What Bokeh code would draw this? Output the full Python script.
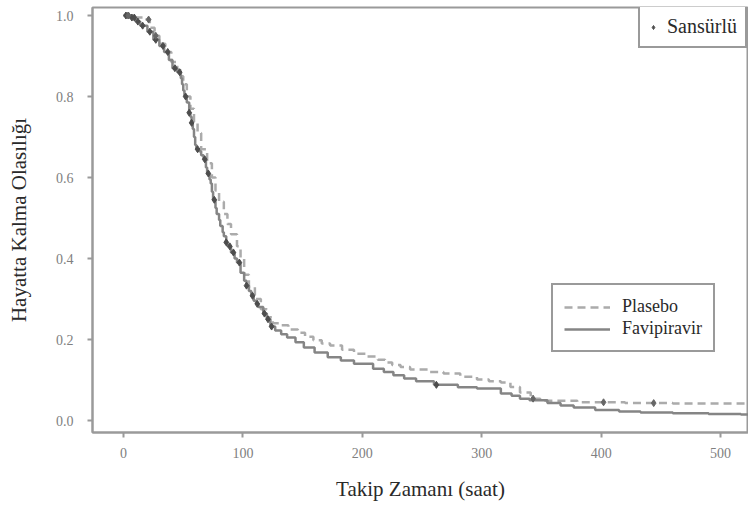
import numpy as np
from bokeh.plotting import figure
from bokeh.models import Legend, LegendItem, Range1d, FixedTicker, PrintfTickFormatter, ColumnDataSource
from bokeh.embed import file_html
from bokeh.resources import INLINE

# Favipiravir Kaplan-Meier estimate (time in hours, survival probability)
fav_time = [0, 5, 10, 14, 20, 25, 30, 34, 38, 41, 45, 48, 49, 50, 51, 53, 55, 56, 57, 58, 59,
            60, 61, 63, 65, 67, 69, 70, 72, 73, 74, 75, 77, 78, 80, 81, 83, 84, 86, 87, 90,
            93, 95, 98, 101, 103, 105, 107, 109, 111, 113, 117, 120, 123, 127, 132, 137, 144,
            151, 160, 171, 182, 193, 209, 218, 226, 235, 245, 260, 280, 296, 316, 325, 332,
            340, 355, 366, 377, 395, 415, 433, 460, 490, 517, 525]
fav_surv = [1.0, 0.995, 0.985, 0.975, 0.96, 0.94, 0.925, 0.91, 0.89, 0.87, 0.86, 0.845, 0.83,
            0.815, 0.80, 0.785, 0.76, 0.75, 0.735, 0.72, 0.70, 0.68, 0.67, 0.665, 0.655,
            0.645, 0.625, 0.61, 0.595, 0.585, 0.565, 0.545, 0.525, 0.51, 0.495, 0.48, 0.465,
            0.455, 0.44, 0.43, 0.415, 0.40, 0.39, 0.365, 0.345, 0.333, 0.32, 0.308, 0.296,
            0.288, 0.28, 0.264, 0.25, 0.232, 0.222, 0.213, 0.205, 0.193, 0.18, 0.168, 0.156,
            0.148, 0.14, 0.128, 0.12, 0.112, 0.104, 0.097, 0.088, 0.082, 0.079, 0.067, 0.061,
            0.054, 0.05, 0.043, 0.037, 0.032, 0.026, 0.022, 0.02, 0.018, 0.016, 0.015, 0.015]

# Placebo Kaplan-Meier estimate
pla_time = [0, 10, 18, 22, 26, 30, 35, 40, 45, 48, 50, 53, 56, 59, 62, 65, 70, 74, 77, 80,
            84, 87, 90, 95, 98, 101, 105, 110, 115, 120, 125, 131, 138, 146, 152, 159, 166,
            173, 183, 193, 203, 213, 219, 225, 232, 240, 255, 268, 282, 296, 306, 316, 324,
            332, 341, 349, 380, 420, 460, 525]
pla_surv = [1.0, 0.995, 0.99, 0.97, 0.95, 0.93, 0.91, 0.885, 0.865, 0.85, 0.83, 0.80, 0.77,
            0.74, 0.71, 0.67, 0.635, 0.60, 0.568, 0.54, 0.51, 0.485, 0.46, 0.43, 0.40, 0.36,
            0.33, 0.30, 0.275, 0.255, 0.24, 0.235, 0.225, 0.217, 0.207, 0.198, 0.19, 0.185,
            0.175, 0.165, 0.158, 0.15, 0.143, 0.137, 0.132, 0.126, 0.12, 0.116, 0.108, 0.101,
            0.097, 0.094, 0.083, 0.069, 0.054, 0.049, 0.045, 0.043, 0.042, 0.042]

# censoring times
fav_censor = [2, 4, 7, 9, 12, 16, 22, 27, 33, 37, 43, 47, 52, 55, 57, 62, 68, 71, 76, 86, 89,
              92, 97, 103, 108, 112, 118, 121, 124, 262]
pla_censor = [4, 21, 27, 343, 402, 444]

x_ticks = [0, 100, 200, 300, 400, 500]
y_ticks = [0.0, 0.2, 0.4, 0.6, 0.8, 1.0]


def km_at(times, surv, t):
    times = np.asarray(times)
    surv = np.asarray(surv)
    idx = np.searchsorted(times, np.asarray(t), side="right") - 1
    return surv[np.clip(idx, 0, len(surv) - 1)]


SERIF = '"Liberation Serif", "Times New Roman", serif'

p = figure(width=748, height=511, output_backend="svg", toolbar_location=None,
           x_range=Range1d(-26, 523.4), y_range=Range1d(-0.0296, 1.0198),
           min_border_left=92, min_border_right=0, min_border_top=7, min_border_bottom=79,
           background_fill_color="white", border_fill_color="white")

p.xgrid.visible = False
p.ygrid.visible = False
p.outline_line_color = "#9a9a9a"
p.outline_line_width = 2

for ax in (p.xaxis[0], p.yaxis[0]):
    ax.axis_line_color = "#9a9a9a"
    ax.axis_line_width = 2
    ax.major_tick_line_color = "#9a9a9a"
    ax.major_tick_line_width = 2
    ax.major_tick_out = 5
    ax.major_tick_in = 0
    ax.minor_tick_line_color = None
    ax.major_label_text_font = SERIF
    ax.major_label_text_font_size = "14px"
    ax.major_label_text_color = "#808080"
    ax.axis_label_text_font = SERIF
    ax.axis_label_text_font_size = "21px"
    ax.axis_label_text_font_style = "normal"
    ax.axis_label_text_color = "#2a2a2a"

p.xaxis.ticker = FixedTicker(ticks=x_ticks)
p.yaxis.ticker = FixedTicker(ticks=y_ticks)
p.yaxis.formatter = PrintfTickFormatter(format="%.1f")
p.xaxis.axis_label = "Takip Zamanı (saat)"
p.yaxis.axis_label = "Hayatta Kalma Olasılığı"
p.xaxis.major_label_standoff = 10
p.yaxis.major_label_standoff = 14
p.xaxis.axis_label_standoff = 16
p.yaxis.axis_label_standoff = 22

r_pla = p.step(pla_time, pla_surv, mode="after", line_color="#ababab", line_width=2.5,
               line_dash="8 5")
r_fav = p.step(fav_time, fav_surv, mode="after", line_color="#858585", line_width=2.5)

fav_c = ColumnDataSource(dict(x=fav_censor, y=km_at(fav_time, fav_surv, fav_censor)))
pla_c = ColumnDataSource(dict(x=pla_censor, y=km_at(pla_time, pla_surv, pla_censor)))
r_cen = p.scatter("x", "y", source=fav_c, marker="diamond", size=7, fill_color="#4d4d4d",
                  line_color="#4d4d4d")
p.scatter("x", "y", source=pla_c, marker="diamond", size=7, fill_color="#666666",
          line_color="#666666")

leg_c = Legend(items=[LegendItem(label="Sansürlü", renderers=[r_cen])],
               location=(546, 384), orientation="vertical",
               label_text_font=SERIF, label_text_font_size="20px", label_text_color="#2a2a2a",
               glyph_width=10, glyph_height=16, label_standoff=9, padding=8, spacing=0,
               label_height=16,
               border_line_color="#9a9a9a", border_line_width=2, border_line_alpha=1,
               background_fill_color="white", background_fill_alpha=1, margin=0)
leg_l = Legend(items=[LegendItem(label="Plasebo", renderers=[r_pla]),
                      LegendItem(label="Favipiravir", renderers=[r_fav])],
               location=(459, 80), orientation="vertical",
               label_text_font=SERIF, label_text_font_size="18px", label_text_color="#2a2a2a",
               glyph_width=46, glyph_height=18, label_standoff=12, padding=11, spacing=1,
               label_width=60, label_height=18,
               border_line_color="#9a9a9a", border_line_width=2, border_line_alpha=1,
               background_fill_color="white", background_fill_alpha=1, margin=0)
p.add_layout(leg_c, "center")
p.add_layout(leg_l, "center")

open("out.html", "w").write(file_html(p, INLINE))
